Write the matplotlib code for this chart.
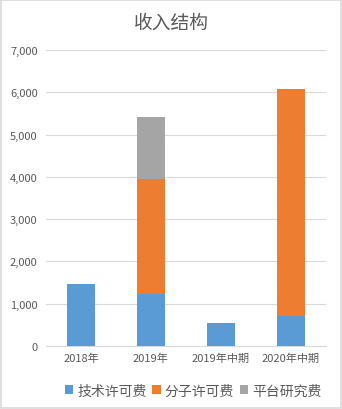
import matplotlib
matplotlib.use('Agg')
import matplotlib.pyplot as plt
import numpy as np
from matplotlib.patches import Rectangle
from matplotlib.ticker import FuncFormatter

plt.rcParams['font.family'] = ['Noto Sans CJK SC', 'DejaVu Sans']

# === Data ===
categories = ['2018年', '2019年', '2019年中期', '2020年中期']
tech_fee = [1470, 1240, 545, 715]
molecule_fee = [0, 2710, 0, 5365]
platform_fee = [0, 1460, 0, 0]
series_names = ['技术许可费', '分子许可费', '平台研究费']
colors = ['#5B9BD5', '#ED7D31', '#A5A5A5']

text_color = '#595959'
grid_color = '#D9D9D9'

# === Plot ===
fig = plt.figure(figsize=(3.42, 4.10), dpi=100)
ax = fig.add_axes([0.1345, 0.1537, 0.8185, 0.7219])

x = np.arange(len(categories))
bottom = np.zeros(len(categories))
for vals, name, c in zip([tech_fee, molecule_fee, platform_fee], series_names, colors):
    ax.bar(x, vals, width=0.4, bottom=bottom, color=c, label=name, zorder=3)
    bottom += np.array(vals)

ax.set_xlim(-0.5, len(categories) - 0.5)
ax.set_ylim(0, 7000)
ax.set_yticks(range(0, 7001, 1000))
ax.yaxis.set_major_formatter(FuncFormatter(lambda v, p: f'{int(v):,}'))
ax.set_xticks(x)
ax.set_xticklabels(categories)
ax.grid(axis='y', color=grid_color, linewidth=0.8, zorder=0)
ax.tick_params(length=0, colors=text_color, labelsize=8)
ax.tick_params(axis='y', pad=6)
ax.tick_params(axis='x', pad=5)
for s in ['left', 'right', 'top']:
    ax.spines[s].set_visible(False)
ax.spines['bottom'].set_color(grid_color)

fig.text(0.5, 0.943, '收入结构', ha='center', va='center', fontsize=13.5, color=text_color)

leg = fig.legend(loc='center', bbox_to_anchor=(0.565, 0.045), ncol=3, frameon=False,
                 handlelength=0.6, handleheight=0.6, handletextpad=0.3,
                 columnspacing=0.4, fontsize=10)
for t in leg.get_texts():
    t.set_color(text_color)

fig.patches.append(Rectangle((0.002, 0.002), 0.996, 0.996, transform=fig.transFigure,
                             fill=False, edgecolor=grid_color, linewidth=1.2))

fig.savefig('out.png', dpi=100)
